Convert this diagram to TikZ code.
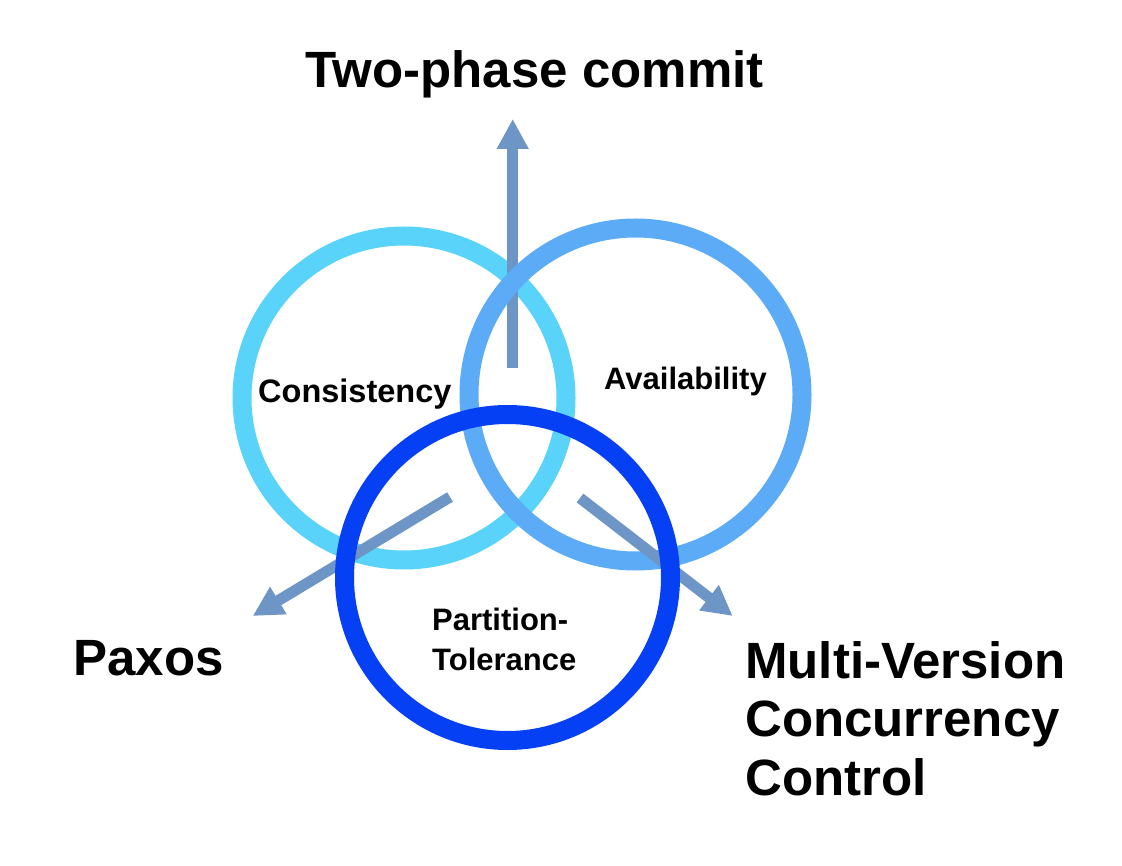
\documentclass[tikz,border=0pt]{standalone}
\usepackage{fontspec}
\setmainfont{Liberation Sans}
\usetikzlibrary{arrows.meta}
\definecolor{ccyan}{HTML}{5AD3FA}
\definecolor{cblue}{HTML}{5CABF6}
\definecolor{cdark}{HTML}{0540F5}
\definecolor{carrow}{HTML}{6D96C6}
\tikzset{
  ring/.style={circle, draw=#1, line width=19pt, inner sep=0pt, outer sep=0pt},
  flow/.style={draw=carrow, line width=11pt, -{Triangle[width=30pt,length=30pt]}},
  big/.style={font=\bfseries\fontsize{51}{58.5}\selectfont, inner sep=0pt, text=black},
  small/.style={font=\bfseries\fontsize{31}{40}\selectfont, inner sep=0pt, text=black},
}
\begin{document}
\begin{tikzpicture}[x=1pt,y=-1pt]
\useasboundingbox (0,0) rectangle (1122,866);
% Consistency ring
\node[ring=ccyan, minimum size=324pt] (C) at (404,398) {};
% vertical arrow
\coordinate (tpcS) at (512.7,368);
\coordinate (tpcE) at (512.7,119);
\draw[flow] (tpcS) -- (tpcE);
% Availability ring
\node[ring=cblue, minimum size=333pt] (A) at (635.5,394.5) {};
% diagonal arrows
\coordinate (pxS) at (450,497);
\coordinate (pxE) at (252.7,616);
\draw[flow] (pxS) -- (pxE);
\coordinate (mvS) at (580,498);
\coordinate (mvE) at (732.7,616);
\draw[flow] (mvS) -- (mvE);
% Partition ring
\node[ring=cdark, minimum size=326pt] (P) at (507.5,577.5) {};
% labels
\node[small, font=\bfseries\fontsize{32.5}{40}\selectfont, anchor=base west] (lc) at (258,403) {Consistency};
\node[small, anchor=base west] (la) at (604,390) {Availability};
\node[small, anchor=base west, align=left] (lp) at (432,670) {Partition-\\Tolerance};
% outcome labels
\node[big, anchor=base] (tpc) at (534.5,88) {Two-phase commit};
\node[big, anchor=base] (px) at (148.5,675) {Paxos};
\node[big, anchor=base west, align=left] (mv) at (745,795) {Multi-Version\\Concurrency\\Control};
\end{tikzpicture}
\end{document}
